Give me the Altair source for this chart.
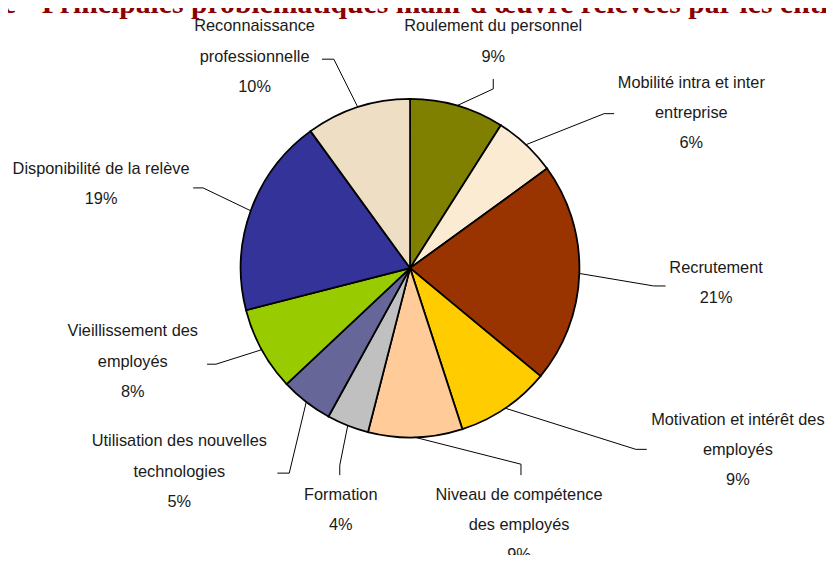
import math
import altair as alt
import pandas as pd

# ---------------- DATA ----------------
categories = [
    "Roulement du personnel",
    "Mobilité intra et inter entreprise",
    "Recrutement",
    "Motivation et intérêt des employés",
    "Niveau de compétence des employés",
    "Formation",
    "Utilisation des nouvelles technologies",
    "Vieillissement des employés",
    "Disponibilité de la relève",
    "Reconnaissance professionnelle",
]
values = [9, 6, 21, 9, 9, 4, 5, 8, 19, 10]
colors = ["#808000", "#FBEBD3", "#993300", "#FFCC00", "#FFCC99",
          "#C0C0C0", "#666699", "#99CC00", "#333399", "#EEDFC4"]
label_text = [
    "Roulement du personnel",
    "Mobilité intra et inter\nentreprise",
    "Recrutement",
    "Motivation et intérêt des\nemployés",
    "Niveau de compétence\ndes employés",
    "Formation",
    "Utilisation des nouvelles\ntechnologies",
    "Vieillissement des\nemployés",
    "Disponibilité de la relève",
    "Reconnaissance\nprofessionnelle",
]
title_prefix = "Graphique"
title_main = "Principales problématiques main-d'œuvre relevées par les entreprises"

# ---------------- LAYOUT ----------------
W, H = 826, 547
CX, CY, R = 406, 260, 171
label_x = [490, 690, 715, 737, 516, 336, 173, 126, 94, 249]
label_y = [21, 78, 265, 418, 494, 494, 440, 329, 165, 21]
elbow_x = [490, 602, 652, 634, 518, 335, 284, 210, 197, 329]
elbow_y = [79, 104, 278, 443, 458, 459, 467, 357, 179, 49]
end_x = [490, 612, 664, 645, 518, 335, 272, 201, 187, 317]
end_y = [69, 104, 278, 443, 469, 469, 467, 357, 179, 49]

FONT = "Liberation Sans, Arial"

total = sum(values)
pie_df = pd.DataFrame({"category": categories, "value": values,
                       "idx": list(range(len(values)))})

lab_df = pd.DataFrame({
    "txt": [f"{t}\n{v}%" for t, v in zip(label_text, values)],
    "lx": label_x, "ly": label_y,
})

rows = []
cum = 0
for i, v in enumerate(values):
    mid = (cum + v / 2) / total * 2 * math.pi
    cum += v
    sx = CX + R * math.sin(mid)
    sy = CY - R * math.cos(mid)
    pts = [(sx, sy), (elbow_x[i], elbow_y[i]), (end_x[i], end_y[i])]
    for k, (px, py) in enumerate(pts):
        rows.append({"cat": categories[i], "k": k, "px": px, "py": py})
line_df = pd.DataFrame(rows)

pie = alt.Chart(pie_df).mark_arc(
    outerRadius=R, stroke="#000000", strokeWidth=1.8
).encode(
    theta=alt.Theta("value:Q", stack=True),
    order=alt.Order("idx:Q"),
    color=alt.Color("category:N", scale=alt.Scale(domain=categories, range=colors), legend=None),
    x=alt.value(CX), y=alt.value(CY),
)

leaders = alt.Chart(line_df).mark_line(color="#000000", strokeWidth=1).encode(
    x=alt.X("px:Q", scale=None, axis=None),
    y=alt.Y("py:Q", scale=None, axis=None),
    detail="cat:N",
    order="k:Q",
)

labels = alt.Chart(lab_df).mark_text(
    font=FONT, fontSize=16.5, color="#1a1a1a", align="center",
    baseline="alphabetic", lineBreak="\n", lineHeight=30.5,
).encode(
    x=alt.X("lx:Q", scale=None, axis=None),
    y=alt.Y("ly:Q", scale=None, axis=None),
    text="txt:N",
)

title1 = alt.Chart(pd.DataFrame({"t": [title_prefix]})).mark_text(
    font="Liberation Serif", fontWeight="bold", fontSize=30, color="#8B0000",
    align="right", baseline="alphabetic",
).encode(x=alt.value(8), y=alt.value(2), text="t:N")

title2 = alt.Chart(pd.DataFrame({"t": [title_main]})).mark_text(
    font="Liberation Serif", fontWeight="bold", fontSize=30, color="#8B0000",
    align="left", baseline="alphabetic",
).encode(x=alt.value(34), y=alt.value(2), text="t:N")

chart = alt.layer(pie, leaders, labels, title1, title2).properties(
    width=W, height=H,
    autosize=alt.AutoSizeParams(type="none"),
    padding=0,
).configure(background="#ffffff").configure_view(stroke=None, strokeWidth=0)

chart.save("out.html", embed_options={"renderer": "svg", "actions": False})
